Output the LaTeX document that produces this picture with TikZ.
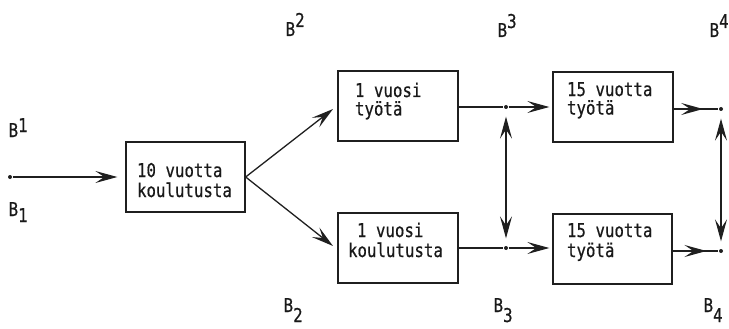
\documentclass[tikz,border=0pt]{standalone}
\usepackage{fontspec}
\newfontfamily\tw[FakeStretch=0.83,FakeBold=0.6]{DejaVu Sans Mono}
\usetikzlibrary{arrows.meta,decorations.markings}

% stage text: box width, left indent, height of the first line, lines
\newcommand\stagetext[4]{\parbox[c][70pt][t]{#1}{\leftskip=#2\relax\rule{0pt}{#3}#4}}

\begin{document}
\begin{tikzpicture}[x=1pt,y=-1pt,
  line width=1.3pt, draw=black!88,
  >={Stealth[length=22pt,width=12pt,inset=9pt]},
  box/.style={draw, line width=1.3pt, inner sep=0pt,
    font=\tw\fontsize{19}{20}\selectfont, text=black!90},
  lbl/.style={inner sep=0pt, font=\tw\fontsize{19}{20}\selectfont, text=black!90},
  dot/.style={circle, fill=black!88, draw=none, inner sep=0pt, minimum size=4pt},
  midarrow/.style={postaction={decorate}, decoration={markings,
    mark=at position #1 with {\arrow{>}}}}]
\useasboundingbox (0,0) rectangle (729,329);

% stages
\node[box] (b1) at (185.5,177) {\stagetext{119pt}{11pt}{35pt}{10 vuotta\\koulutusta}};
\node[box] (b2) at (398,106) {\stagetext{120pt}{17pt}{26pt}{1 vuosi\\[-1.5pt]työtä}};
\node[box] (b3) at (398,248) {\stagetext{120pt}{10pt}{24pt}{\hspace*{9pt}1 vuosi\\koulutusta}};
\node[box] (b4) at (613,107) {\stagetext{120pt}{14pt}{24pt}{15 vuotta\\[-1.5pt]työtä}};
\node[box] (b5) at (612.5,249) {\stagetext{119pt}{14pt}{23pt}{15 vuotta\\työtä}};

% branch points
\node[dot] (d0) at (10,177) {};
\node[dot] (d3u) at (506,107) {};
\node[dot] (d3d) at (506,248) {};
\node[dot] (d4u) at (721,109) {};
\node[dot] (d4d) at (721,251) {};
\coordinate (e2) at (333,109);
\coordinate (e3) at (333,246);

% connectors
\draw[->, shorten >=8pt] (d0) -- (d0 -| b1.west);
\draw[->] (b1.east) -- (e2);
\draw[->] (b1.east) -- (e3);
\draw (b2.east |- d3u) -- (d3u);
\draw[->, shorten >=3pt] (d3u) -- (d3u -| b4.west);
\draw (b3.east |- d3d) -- (d3d);
\draw[->, shorten >=3pt] (d3d) -- (d3d -| b5.west);
\draw[midarrow=0.66] (b4.east |- d4u) -- (d4u);
\draw[midarrow=0.74] (b5.east |- d4d) -- (d4d);
\draw[<->, shorten <=7pt, shorten >=7pt] (d3u) -- (d3d);
\draw[<->, shorten <=7pt, shorten >=7pt] (d4u) -- (d4d);

% boundary labels
\node[lbl, anchor=base west] (B1u) at (8,137) {B\raisebox{5pt}{1}};
\node[lbl, anchor=base west] (B1d) at (8,216) {B\raisebox{-6pt}{1}};
\node[lbl, anchor=base west] (B2u) at (285,36) {B\raisebox{9pt}{2}};
\node[lbl, anchor=base west] (B3u) at (497,37) {B\raisebox{9pt}{3}};
\node[lbl, anchor=base west] (B4u) at (709,37) {B\raisebox{9pt}{4}};
\node[lbl, anchor=base west] (B2d) at (283,312) {B\raisebox{-10pt}{2}};
\node[lbl, anchor=base west] (B3d) at (493,312) {B\raisebox{-10pt}{3}};
\node[lbl, anchor=base west] (B4d) at (703,312) {B\raisebox{-10pt}{4}};
\end{tikzpicture}
\end{document}
